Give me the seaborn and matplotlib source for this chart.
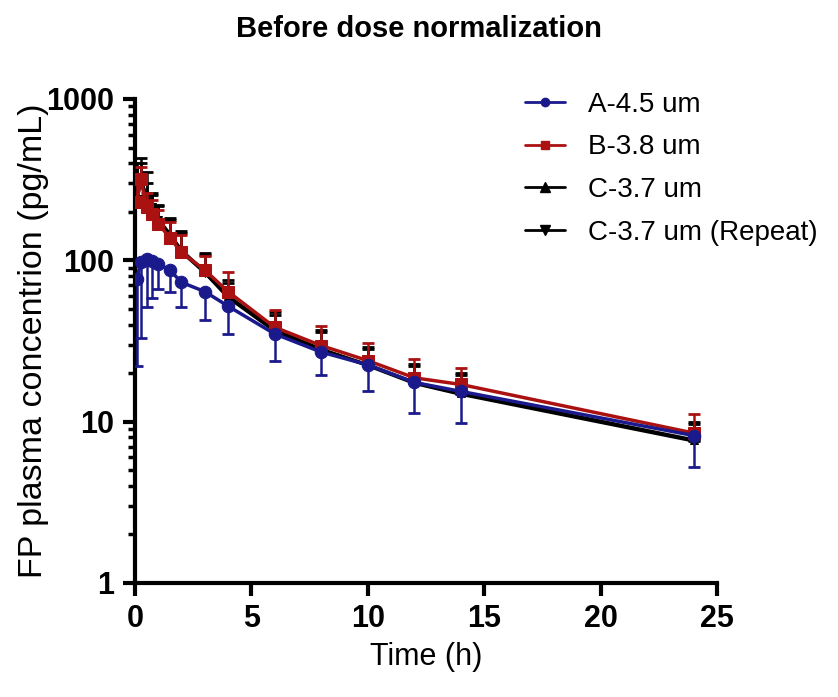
import numpy as np
import pandas as pd
import matplotlib
matplotlib.use("Agg")
import matplotlib.pyplot as plt
import matplotlib.ticker as mticker
from matplotlib.lines import Line2D
import seaborn as sns

# sampling times (h)
time_h = [0.083, 0.25, 0.5, 0.75, 1, 1.5, 2, 3, 4, 6, 8, 10, 12, 14, 24]

# A-4.5 um: mean and lower end of error bar
a_mean = [77, 97, 102, 99, 95, 87, 73, 64, 52, 35, 27, 22.5, 17.5, 15.4, 8.2]
a_low = [22, 33, 51, 58, 66, 64, 51, 42.5, 35, 23.6, 19.5, 15.5, 11.3, 9.8, 5.2]

# B-3.8 um: mean and upper end of error bar
b_mean = [230, 320, 214, 195, 169, 138, 112, 87, 64, 38.5, 29.6, 23.9, 18.7, 17.0, 8.5]
b_high = [300, 380, 262, 236, 205, 173, 143, 106, 84.6, 49.4, 39, 30.8, 24.3, 21.5, 11.1]

# C-3.7 um
c_mean = [250, 320, 240, 210, 180, 145, 115, 85, 60, 37, 28, 22.5, 17.5, 15.0, 7.7]
c_high = [400, 428, 300, 253, 217, 183, 151, 111, 75, 47.7, 37, 29, 22.8, 20, 9.9]

# C-3.7 um (Repeat)
cr_mean = [240, 310, 250, 215, 178, 142, 113, 84, 59, 36.5, 28, 22.3, 17.3, 14.8, 7.6]
cr_high = [380, 400, 353, 260, 220, 178, 148, 108, 72, 46, 36, 28, 22, 19.5, 9.6]

groups = ["A-4.5 um", "B-3.8 um", "C-3.7 um", "C-3.7 um (Repeat)"]
colors = ["#1a1a8c", "#aa1111", "black", "black"]
markers = ["o", "s", "^", "v"]
msizes = [9, 8.5, 6, 6]

df = pd.concat([
    pd.DataFrame({"Time": time_h, "Conc": a_mean, "Group": groups[0]}),
    pd.DataFrame({"Time": time_h, "Conc": b_mean, "Group": groups[1]}),
    pd.DataFrame({"Time": time_h, "Conc": c_mean, "Group": groups[2]}),
    pd.DataFrame({"Time": time_h, "Conc": cr_mean, "Group": groups[3]}),
])

sns.set_style("ticks")
plt.rcParams["font.family"] = ["Liberation Sans Narrow", "Liberation Sans", "DejaVu Sans"]
plt.rcParams.update({"text.color": "black", "axes.labelcolor": "black",
                     "xtick.color": "black", "ytick.color": "black",
                     "axes.edgecolor": "black"})

fig = plt.figure(figsize=(8.38, 6.97), dpi=100)
ax = fig.add_axes([0.161, 0.1636, 0.6945, 0.6944])

# error bars (one-sided)
means = [a_mean, b_mean, c_mean, cr_mean]
ends = [a_low, b_high, c_high, cr_high]
zorders = [6, 5, 3, 4]
for i, g in enumerate(groups):
    m = np.array(means[i])
    e = np.array(ends[i])
    if i == 0:
        yerr = [m - e, np.zeros_like(m)]
    else:
        yerr = [np.zeros_like(m), e - m]
    ax.errorbar(time_h, m, yerr=yerr, fmt="none", ecolor=colors[i],
                elinewidth=1.8, capsize=4.5, capthick=2, zorder=zorders[i] - 0.5)

# lines with markers, drawn group by group for stacking order
for i in [2, 3, 1, 0]:
    sub = df[df["Group"] == groups[i]]
    sns.lineplot(data=sub, x="Time", y="Conc", ax=ax, color=colors[i],
                 marker=markers[i], markersize=msizes[i], markeredgecolor=colors[i],
                 linewidth=2.5, legend=False, zorder=zorders[i])

ax.set_yscale("log")
ax.set_ylim(1, 1000)
ax.set_xlim(0, 25)
ax.set_xticks([0, 5, 10, 15, 20, 25])
ax.set_yticks([1, 10, 100, 1000])
ax.yaxis.set_major_formatter(mticker.FuncFormatter(lambda v, p: f"{v:g}"))
ax.yaxis.set_minor_locator(mticker.LogLocator(base=10, subs=np.arange(2, 10)))
ax.yaxis.set_minor_formatter(mticker.NullFormatter())

for s in ["top", "right"]:
    ax.spines[s].set_visible(False)
for s in ["left", "bottom"]:
    ax.spines[s].set_linewidth(3)
ax.tick_params(axis="both", which="major", width=3, length=9, labelsize=22, pad=6)
ax.tick_params(axis="y", which="minor", width=2.5, length=5)
for lab in ax.get_xticklabels() + ax.get_yticklabels():
    lab.set_fontweight("bold")

ax.set_xlabel("Time (h)", fontsize=22)
ax.xaxis.set_label_coords(0.5, -0.122)
ax.set_ylabel("FP plasma concentrion (pg/mL)", fontsize=24.5,
              family=["Liberation Sans", "DejaVu Sans"])
ax.yaxis.set_label_coords(-0.148, 0.5)
fig.suptitle("Before dose normalization", fontsize=21, fontweight="bold",
             x=0.5, y=0.978)

leg_msizes = [6, 6, 6.5, 6.5]
handles = [Line2D([0], [0], color=colors[i], marker=markers[i], markersize=leg_msizes[i],
                  linewidth=2) for i in range(4)]
leg = ax.legend(handles, groups, loc="upper left", bbox_to_anchor=(0.651, 1.038),
                frameon=False, fontsize=20, handlelength=1.45, labelspacing=0.6,
                handletextpad=0.83, borderaxespad=0)

fig.savefig("out.png", dpi=100)
